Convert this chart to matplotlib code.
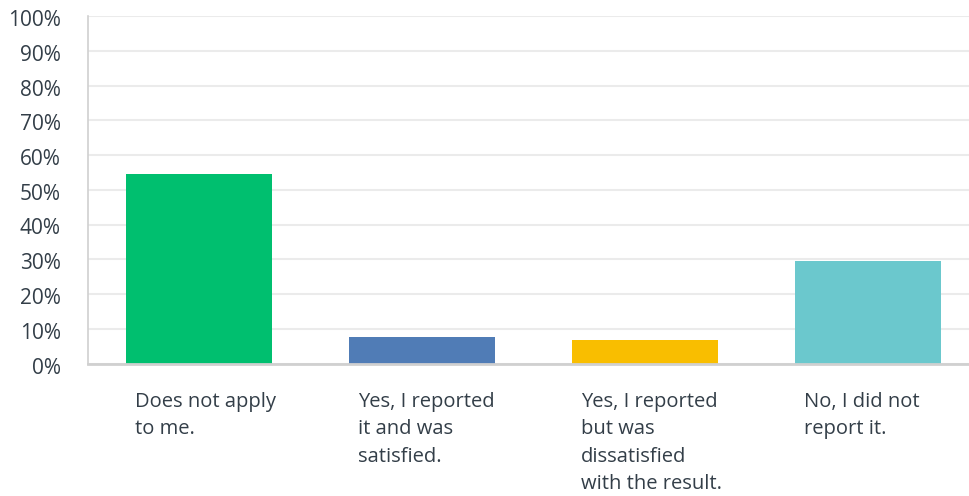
import matplotlib
matplotlib.use("Agg")
import matplotlib.pyplot as plt
import matplotlib.transforms as mtransforms
from matplotlib.ticker import FuncFormatter

categories = [
    "Does not apply\nto me.",
    "Yes, I reported\nit and was\nsatisfied.",
    "Yes, I reported\nbut was\ndissatisfied\nwith the result.",
    "No, I did not\nreport it.",
]
values = [54.5, 7.7, 6.8, 29.6]
colors = ["#00bf6f", "#507cb6", "#f9be00", "#6bc8cd"]
yticks = list(range(0, 101, 10))

plt.rcParams["font.family"] = ["Open Sans", "DejaVu Sans"]
text_color = "#333e48"

fig = plt.figure(figsize=(9.7, 4.96), dpi=100)
# the plotting area runs slightly past the right edge of the canvas
ax = fig.add_axes([88 / 970, 132.5 / 496, 891 / 970, 347.5 / 496])

bar_w = 0.656
x = list(range(len(categories)))
ax.bar(x, values, width=bar_w, color=colors, zorder=3)

ax.set_xlim(-0.5, len(categories) - 0.5)
ax.set_ylim(0, 100)
ax.set_yticks(yticks)
ax.yaxis.set_major_formatter(FuncFormatter(lambda v, _: f"{int(v)}%"))
ax.tick_params(axis="y", length=0, pad=19.5, labelsize=15, labelcolor=text_color)
ax.set_xticks([])

# nudge the percentage labels a touch below their gridlines
shift = mtransforms.ScaledTranslation(0, -2 / 100, fig.dpi_scale_trans)
for lbl in ax.get_yticklabels():
    lbl.set_transform(lbl.get_transform() + shift)

ax.grid(axis="y", color="#ebebeb", linewidth=1.5, zorder=0)
for s in ("top", "right"):
    ax.spines[s].set_visible(False)
ax.spines["left"].set_color("#d0d0d0")
ax.spines["left"].set_linewidth(1.2)
ax.spines["bottom"].set_color("#d0d0d0")
ax.spines["bottom"].set_linewidth(2)
ax.spines["bottom"].set_zorder(4)

for i, label in enumerate(categories):
    ax.annotate(label, xy=(i - bar_w / 2, 0), xycoords="data",
                xytext=(6.5, -20.5), textcoords="offset points",
                ha="left", va="top", fontsize=14.5, color=text_color,
                linespacing=1.5, annotation_clip=False)

fig.savefig("out.png", dpi=100)
